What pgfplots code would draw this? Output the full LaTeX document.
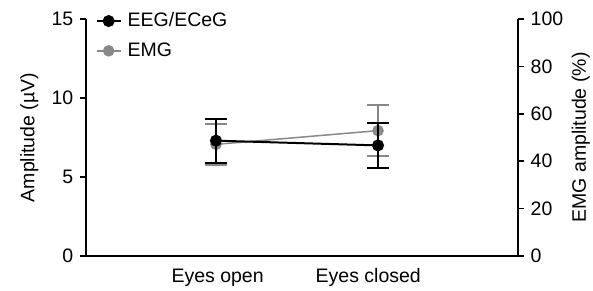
\documentclass[border=0pt]{standalone}
\usepackage{pgfplots}
\pgfplotsset{compat=1.18}
\usepackage{fontspec}
\setmainfont{Liberation Sans}
\definecolor{emggray}{HTML}{888888}
\newcommand{\figfont}{\fontsize{19.5}{23}\selectfont}
\begin{document}
\figfont
\begin{tikzpicture}
\pgfplotsset{
  common/.style={
    scale only axis, width=432pt, height=237pt,
    xmin=0.198, xmax=2.864,
    /pgf/number format/assume math mode=true,
    tick label style={font=\figfont},
    label style={font=\figfont},
    axis line style={line width=2.5pt, black},
    tick style={line width=1.5pt, black},
    major tick length=6pt,
    tick align=outside,
    clip=false,
  }
}
\path[use as bounding box] (-86pt,-34pt) rectangle (507pt,256pt);
% EMG (right axis)
\begin{axis}[common,
  axis x line=none, axis y line*=right,
  ymin=0, ymax=100, ytick={0,20,...,100},
  ylabel={EMG amplitude (\%)},
  ylabel style={at={(rel axis cs:1,0.5)}, anchor=north, yshift=-47pt},
]
\addplot[color=emggray, line width=1.5pt, mark=*, mark size=5pt,
  mark options={fill=emggray, draw=emggray},
  error bars/.cd, y dir=both, y explicit,
  error bar style={line width=1.5pt, emggray},
  error mark options={rotate=90, mark size=11pt, line width=1.5pt, emggray}]
  coordinates {(1,47.1) +- (0,8.7) (2,52.9) +- (0,10.8)};
\end{axis}
% EEG (left axis)
\begin{axis}[common,
  axis x line*=bottom, axis y line*=left,
  ymin=0, ymax=15, ytick={0,5,10,15},
  xtick={1.01,1.94}, xticklabels={Eyes open, Eyes closed},
  x tick style={draw=none},
  ylabel={Amplitude (\textmu V)},
  legend cell align=left,
  legend style={draw=none, fill=none, at={(0.015,1.045)}, anchor=north west,
    font=\figfont, row sep=9pt, column sep=4pt},
  legend image code/.code={\draw[#1, mark repeat=2, mark phase=2] plot coordinates {(0pt,0pt) (12pt,0pt) (24pt,0pt)};},
]
\addplot[color=black, line width=2pt, mark=*, mark size=5pt,
  error bars/.cd, y dir=both, y explicit,
  error bar style={line width=2pt, black},
  error mark options={rotate=90, mark size=11pt, line width=2pt, black}]
  coordinates {(1,7.3) +- (0,1.4) (2,7.0) +- (0,1.4)};
\addlegendentry{EEG/ECeG}
\addlegendimage{color=emggray, line width=1.5pt, mark=*, mark size=5pt, mark options={fill=emggray, draw=emggray}}
\addlegendentry{EMG}
\end{axis}
\end{tikzpicture}
\end{document}
